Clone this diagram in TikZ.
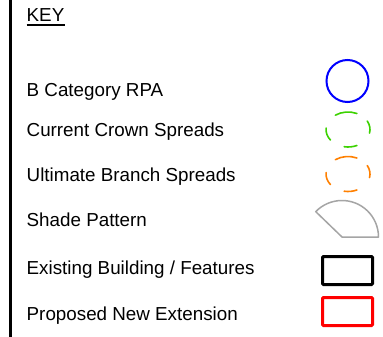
\documentclass[tikz,border=0pt]{standalone}
\usepackage{fontspec}
\setmainfont{Liberation Sans}
\begin{document}
\begin{tikzpicture}[x=1pt,y=-1pt,
  lbl/.style={anchor=base west,inner sep=0pt,font=\fontsize{18.8}{22}\selectfont},
  spread/.style={line width=1.6pt,line cap=round},
  boxsym/.style={draw,line width=3pt,rounded corners=1pt,minimum width=50pt,minimum height=28pt,inner sep=0pt}]
\useasboundingbox (0,0) rectangle (383,337);
\fill[white] (0,0) rectangle (383,337);
% left rule
\coordinate (ltop) at (10.7,0);
\coordinate (lbot) at (10.7,337);
\draw[line width=2.5pt] (ltop) -- (lbot);
% title
\node[lbl] (key) at (26.5,22) {KEY};
\draw[line width=1.5pt] ([yshift=-3pt]key.base west) -- ([yshift=-3pt]key.base east);
% labels
\node[lbl] (l1) at (26.5,96) {B Category RPA};
\node[lbl] (l2) at (26.5,136) {Current Crown Spreads};
\node[lbl] (l3) at (26.5,181) {Ultimate Branch Spreads};
\node[lbl] (l4) at (26.5,226) {Shade Pattern};
\node[lbl] (l5) at (26.5,274) {Existing Building / Features};
\node[lbl] (l6) at (26.5,320) {Proposed New Extension};
% B category RPA
\node[draw=blue,line width=2pt,circle,minimum size=42pt,inner sep=0pt] (rpa) at (347.5,81) {};
% current crown spreads (green dashed)
\coordinate (gc) at (348,129.5);
\foreach \a/\b in {66/125,-12/29,175/217,260/294}{
  \draw[spread,color={rgb,255:red,60;green,210;blue,0}] (gc) ++(\a:22 and -17.5) arc[start angle=\a,end angle=\b,x radius=22,y radius=-17.5];
}
% ultimate branch spreads (orange dashed)
\coordinate (oc) at (348,174);
\foreach \a/\b in {66/125,-12/29,175/217,260/294}{
  \draw[spread,color={rgb,255:red,255;green,128;blue,0}] (oc) ++(\a:22 and -17.5) arc[start angle=\a,end angle=\b,x radius=22,y radius=-17.5];
}
% shade pattern
\coordinate (sc) at (342,237);
\draw[line width=1.5pt,color={rgb,255:red,165;green,165;blue,165},line join=round] (sc) -- ++(136:36.5 and -36.5) arc[start angle=136,end angle=0,x radius=36.5,y radius=-36.5] -- cycle;
% existing building
\node[boxsym] (exist) at (347.5,270.5) {};
% proposed extension
\node[boxsym,draw=red] (prop) at (347.5,311.5) {};
\end{tikzpicture}
\end{document}
